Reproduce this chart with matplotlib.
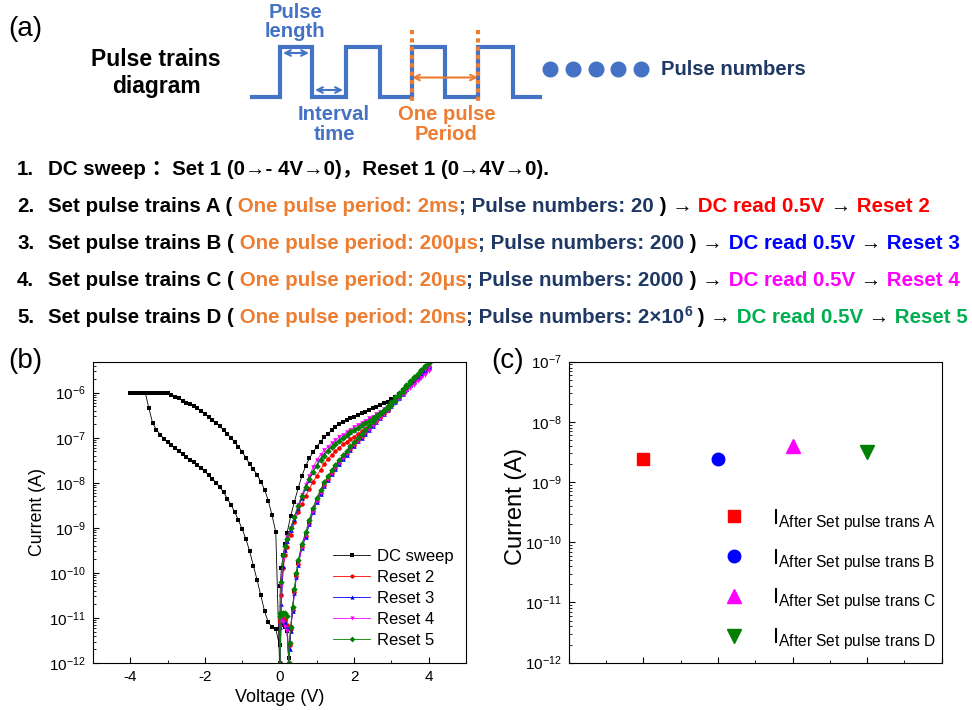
import matplotlib
matplotlib.use('Agg')
import matplotlib.pyplot as plt
import numpy as np
from matplotlib.ticker import MultipleLocator, LogLocator, NullFormatter, FixedLocator

FAM = ['Liberation Sans', 'Noto Sans CJK SC', 'DejaVu Sans']
plt.rcParams['font.family'] = FAM
plt.rcParams['mathtext.fontset'] = 'custom'
plt.rcParams['mathtext.rm'] = 'Liberation Sans'
plt.rcParams['mathtext.it'] = 'Liberation Sans:italic'
plt.rcParams['mathtext.bf'] = 'Liberation Sans:bold'
plt.rcParams['axes.unicode_minus'] = False

# ---------------- panel (b): I-V sweeps, log10|I| ----------------
v_neg = [0.0, -0.1, -0.2, -0.3, -0.4, -0.5, -0.6, -0.7, -0.8, -0.9, -1.0, -1.1, -1.2, -1.3,
         -1.4, -1.5, -1.6, -1.7, -1.8, -1.9, -2.0, -2.1, -2.2, -2.3, -2.4, -2.5, -2.6, -2.7,
         -2.8, -2.9, -3.0, -3.1, -3.2, -3.3, -3.4, -3.5, -3.6, -3.7, -3.8, -3.9, -4.0]
v_up = [0.0, 0.02, 0.05, 0.1, 0.15, 0.2, 0.3, 0.4, 0.5, 0.6, 0.7, 0.8, 0.9, 1.0, 1.1, 1.2,
        1.3, 1.4, 1.5, 1.6, 1.7, 1.8, 1.9, 2.0, 2.1, 2.2, 2.3, 2.4, 2.5, 2.6, 2.7, 2.8, 2.9,
        3.0, 3.1, 3.2, 3.3, 3.4, 3.5, 3.6, 3.7, 3.8, 3.9, 4.0]
v_down = [4.0, 3.9, 3.8, 3.7, 3.6, 3.5, 3.4, 3.3, 3.2, 3.1, 3.0, 2.9, 2.8, 2.7, 2.6, 2.5,
          2.4, 2.3, 2.2, 2.1, 2.0, 1.9, 1.8, 1.7, 1.6, 1.5, 1.4, 1.3, 1.2, 1.1, 1.0, 0.9,
          0.8, 0.7, 0.6, 0.5, 0.45, 0.4, 0.35, 0.3, 0.27, 0.25, 0.2, 0.15, 0.1, 0.05, 0.0]

# DC sweep: set 0 -> -4V -> 0, reset 0 -> 4V -> 0
dc_set_fwd = [-11.6, -11.25, -11.2, -11.1, -10.85, -10.5, -10.16, -9.84, -9.52, -9.25, -9.03,
              -8.83, -8.65, -8.49, -8.35, -8.21, -8.1, -8.0, -7.91, -7.83, -7.75, -7.68, -7.61,
              -7.55, -7.49, -7.42, -7.36, -7.3, -7.23, -7.16, -7.1, -7.02, -6.93, -6.82, -6.68,
              -6.35, -6.0, -6.0, -6.0, -6.0, -6.0]
dc_set_back = [-6.0, -6.0, -6.0, -6.0, -6.0, -6.0, -6.0, -6.0, -6.0, -6.0, -6.0, -6.05, -6.09,
               -6.13, -6.18, -6.22, -6.26, -6.3, -6.35, -6.41, -6.47, -6.53, -6.6, -6.67, -6.75,
               -6.83, -6.92, -7.0, -7.1, -7.2, -7.31, -7.45, -7.58, -7.7, -7.82, -7.98, -8.15,
               -8.4, -8.72, -9.1, -12.0]
dc_reset_up = [-12.0, -10.3, -9.9, -9.6, -9.35, -9.12, -8.74, -8.42, -8.12, -7.85, -7.63, -7.46,
               -7.32, -7.2, -7.09, -6.99, -6.91, -6.84, -6.76, -6.7, -6.65, -6.61, -6.57, -6.53,
               -6.49, -6.45, -6.42, -6.39, -6.35, -6.31, -6.27, -6.24, -6.2, -6.15, -6.1, -6.02,
               -5.95, -5.87, -5.79, -5.71, -5.62, -5.53, -5.44, -5.35]
dc_reset_down = [-5.4, -5.48, -5.56, -5.64, -5.72, -5.8, -5.89, -5.98, -6.07, -6.16, -6.25, -6.34,
                 -6.43, -6.52, -6.61, -6.7, -6.79, -6.87, -6.96, -7.05, -7.14, -7.24, -7.34,
                 -7.44, -7.54, -7.65, -7.77, -7.9, -8.04, -8.2, -8.38, -8.6, -8.87, -9.15, -9.4,
                 -9.77, -10.05, -10.4, -10.8, -11.25, -11.6, -11.9, -11.3, -11.2, -11.15, -11.1,
                 -11.2]

# Reset 2..5 (0 -> 4V -> 0)
r2_up = [-11.1, -12.0, -10.5, -9.9, -9.6, -9.42, -9.15, -8.88, -8.65, -8.47, -8.3, -8.13, -7.98,
         -7.84, -7.71, -7.58, -7.47, -7.38, -7.3, -7.22, -7.15, -7.09, -7.03, -6.98, -6.92,
         -6.86, -6.8, -6.73, -6.67, -6.6, -6.53, -6.46, -6.38, -6.28, -6.18, -6.08, -5.99, -5.9,
         -5.81, -5.73, -5.65, -5.57, -5.49, -5.42]
r2_down = [-5.43, -5.5, -5.58, -5.66, -5.74, -5.82, -5.91, -6.0, -6.09, -6.18, -6.27, -6.36,
           -6.45, -6.54, -6.63, -6.72, -6.81, -6.89, -6.98, -7.06, -7.16, -7.26, -7.36, -7.46,
           -7.56, -7.67, -7.79, -7.92, -8.06, -8.22, -8.4, -8.62, -8.9, -9.18, -9.43, -9.8,
           -10.08, -10.42, -10.82, -11.25, -11.6, -12.0, -11.15, -11.05, -11.0, -10.95, -11.05]
r3_up = [-11.2, -12.0, -10.7, -9.85, -9.5, -9.3, -9.05, -8.8, -8.56, -8.33, -8.12, -7.93, -7.77,
         -7.6, -7.46, -7.36, -7.27, -7.19, -7.12, -7.05, -6.99, -6.93, -6.88, -6.82, -6.77,
         -6.71, -6.66, -6.61, -6.56, -6.5, -6.45, -6.39, -6.33, -6.26, -6.18, -6.09, -6.0,
         -5.91, -5.82, -5.74, -5.66, -5.58, -5.51, -5.44]
r3_down = [-5.45, -5.52, -5.6, -5.68, -5.76, -5.84, -5.93, -6.02, -6.11, -6.2, -6.29, -6.38,
           -6.47, -6.56, -6.65, -6.74, -6.83, -6.91, -7.0, -7.08, -7.18, -7.28, -7.38, -7.48,
           -7.58, -7.69, -7.81, -7.94, -8.08, -8.24, -8.42, -8.65, -8.92, -9.2, -9.45, -9.82,
           -10.1, -10.45, -10.85, -11.3, -11.7, -12.0, -11.2, -11.1, -11.05, -11.0, -11.1]
r4_up = [-11.0, -12.0, -10.3, -9.7, -9.42, -9.2, -9.0, -8.75, -8.5, -8.27, -8.05, -7.84, -7.66,
         -7.5, -7.38, -7.28, -7.2, -7.12, -7.05, -6.99, -6.93, -6.88, -6.82, -6.77, -6.72,
         -6.67, -6.62, -6.57, -6.53, -6.48, -6.42, -6.36, -6.31, -6.24, -6.15, -6.05, -5.96,
         -5.88, -5.8, -5.72, -5.64, -5.57, -5.5, -5.42]
r4_down = [-5.52, -5.6, -5.67, -5.74, -5.82, -5.9, -5.98, -6.06, -6.14, -6.22, -6.31, -6.4,
           -6.48, -6.57, -6.65, -6.74, -6.82, -6.9, -6.99, -7.07, -7.16, -7.26, -7.36, -7.46,
           -7.56, -7.67, -7.79, -7.92, -8.06, -8.22, -8.4, -8.62, -8.88, -9.15, -9.42, -9.78,
           -10.05, -10.4, -10.8, -11.2, -11.55, -12.0, -11.3, -11.2, -11.1, -11.05, -11.2]
r5_up = [-10.9, -12.0, -10.2, -9.6, -9.4, -9.25, -9.0, -8.75, -8.52, -8.3, -8.1, -7.92, -7.76,
         -7.62, -7.5, -7.4, -7.3, -7.21, -7.14, -7.07, -7.0, -6.94, -6.88, -6.83, -6.78, -6.72,
         -6.67, -6.62, -6.57, -6.52, -6.46, -6.4, -6.34, -6.27, -6.18, -6.08, -5.98, -5.88,
         -5.78, -5.68, -5.58, -5.49, -5.4, -5.32]
r5_down = [-5.34, -5.42, -5.5, -5.58, -5.66, -5.74, -5.83, -5.92, -6.01, -6.1, -6.2, -6.29,
           -6.38, -6.47, -6.56, -6.65, -6.74, -6.82, -6.91, -7.0, -7.09, -7.19, -7.29, -7.39,
           -7.49, -7.6, -7.72, -7.85, -7.99, -8.15, -8.33, -8.55, -8.82, -9.1, -9.36, -9.72,
           -10.0, -10.35, -10.75, -11.2, -11.55, -12.0, -10.95, -10.9, -10.88, -10.9, -10.95]

# ---------------- panel (c) ----------------
c_pos = [1, 2, 3, 4]
c_current = [2.45e-9, 2.4e-9, 4.0e-9, 3.2e-9]
c_names = ['A', 'B', 'C', 'D']
c_colors = ['#ff0000', '#0000ff', '#ff00ff', '#007f00']
c_markers = ['s', 'o', '^', 'v']

# ---------------- panel (a) diagram ----------------
pulse_x = [252, 280, 312, 346, 380, 412, 445, 478, 513, 540]
pulse_y = [97, 47, 97, 47, 97, 47, 97, 47, 97, 97]
dots_x = [550, 573, 596, 618, 641]

BLUE = '#4472c4'
ORANGE = '#ed7d31'
NAVY = '#1f3864'
K = 'black'
FS = 14.6

fig = plt.figure(figsize=(9.72, 7.10), dpi=100)
ax0 = fig.add_axes([0, 0, 1, 1])
ax0.set_xlim(0, 972)
ax0.set_ylim(710, 0)
ax0.axis('off')
rend = fig.canvas.get_renderer()

ax0.text(8, 36.5, '(a)', fontsize=20)
ax0.text(8, 368, '(b)', fontsize=20)
ax0.text(491, 368, '(c)', fontsize=20)

ax0.text(156, 66.5, 'Pulse trains', fontsize=16.5, fontweight='bold', ha='center', va='baseline')
ax0.text(156, 93, 'diagram', fontsize=16.5, fontweight='bold', ha='center', va='baseline')

ax0.plot(pulse_x, pulse_y, drawstyle='steps-post', color=BLUE, lw=3, solid_joinstyle='miter')
for xv in [pulse_x[5], pulse_x[7]]:
    ax0.plot([xv, xv], [30, 104], color=ORANGE, lw=3, ls=(0, (1, 1)))
ax0.annotate('', xy=(pulse_x[1] + 3, 53), xytext=(pulse_x[2] - 3, 53),
             arrowprops=dict(arrowstyle='<->', color=BLUE, lw=1.5, shrinkA=0, shrinkB=0))
ax0.annotate('', xy=(pulse_x[2] + 3, 90), xytext=(pulse_x[3] - 3, 90),
             arrowprops=dict(arrowstyle='<->', color=BLUE, lw=1.5, shrinkA=0, shrinkB=0))
ax0.annotate('', xy=(pulse_x[5], 77.5), xytext=(pulse_x[7], 77.5),
             arrowprops=dict(arrowstyle='<->', color=ORANGE, lw=1.5, shrinkA=0, shrinkB=0))
ax0.plot(dots_x, [69] * len(dots_x), 'o', color=BLUE, ms=10.5)

ax0.text(295, 18.5, 'Pulse', color=BLUE, fontsize=FS, fontweight='bold', ha='center', va='baseline')
ax0.text(295, 37, 'length', color=BLUE, fontsize=FS, fontweight='bold', ha='center', va='baseline')
ax0.text(334, 120.5, 'Interval', color=BLUE, fontsize=FS, fontweight='bold', ha='center', va='baseline')
ax0.text(334, 139.5, 'time', color=BLUE, fontsize=FS, fontweight='bold', ha='center', va='baseline')
ax0.text(447, 120.5, 'One pulse', color=ORANGE, fontsize=FS, fontweight='bold', ha='center', va='baseline')
ax0.text(446, 140, 'Period', color=ORANGE, fontsize=FS, fontweight='bold', ha='center', va='baseline')
ax0.text(661, 75, 'Pulse numbers', color=NAVY, fontsize=FS, fontweight='bold', va='baseline')


def draw_segments(x, y, segs, size=14.75):
    for seg in segs:
        s, c = seg[0], seg[1]
        fs = seg[2] if len(seg) > 2 else size
        dy = seg[3] if len(seg) > 3 else 0
        t = ax0.text(x, y - dy, s, color=c, fontsize=fs, fontweight='bold', va='baseline', ha='left')
        x = t.get_window_extent(renderer=rend).x1


steps = [
    [('DC sweep ：Set 1 (0→- 4V→0)，Reset 1 (0→4V→0).', K)],
    [('Set pulse trains A (', K), (' One pulse period: 2ms', ORANGE), ('; Pulse numbers: 20', NAVY),
     (' ) →', K), (' DC read 0.5V', '#ff0000'), (' →', K), (' Reset 2', '#ff0000')],
    [('Set pulse trains B (', K), (' One pulse period: 200μs', ORANGE), ('; Pulse numbers: 200', NAVY),
     (' ) →', K), (' DC read 0.5V', '#0000ff'), (' →', K), (' Reset 3', '#0000ff')],
    [('Set pulse trains C (', K), (' One pulse period: 20μs', ORANGE), ('; Pulse numbers: 2000', NAVY),
     (' ) →', K), (' DC read 0.5V', '#ff00ff'), (' →', K), (' Reset 4', '#ff00ff')],
    [('Set pulse trains D (', K), (' One pulse period: 20ns', ORANGE), ('; Pulse numbers: 2×10', NAVY),
     ('6', NAVY, 10, 6.5), (' ) →', K), (' DC read 0.5V', '#00b050'), (' →', K), (' Reset 5', '#00b050')],
]
for i, segs in enumerate(steps):
    yb = 175 + 37 * i
    ax0.text(17, yb, '%d.' % (i + 1), fontsize=14.75, fontweight='bold', va='baseline')
    draw_segments(48, yb, segs)

# ---------------- panel (b) ----------------
axb = fig.add_axes([93 / 972, 47 / 710, 373 / 972, 301 / 710])
series = [
    ('DC sweep', 'black', 's', v_neg + v_neg[::-1] + v_up + v_down,
     dc_set_fwd + dc_set_back + dc_reset_up + dc_reset_down),
    ('Reset 2', '#ff0000', 'o', v_up + v_down, r2_up + r2_down),
    ('Reset 3', '#0000ff', '^', v_up + v_down, r3_up + r3_down),
    ('Reset 4', '#ff00ff', 'v', v_up + v_down, r4_up + r4_down),
    ('Reset 5', '#008000', 'D', v_up + v_down, r5_up + r5_down),
]
for name, col, mk, vv, li in series:
    axb.plot(vv, 10 ** np.array(li), color=col, marker=mk, ms=3.3, lw=0.6, mew=0, label=name)
axb.set_yscale('log')
axb.set_xlim(-5, 5)
axb.set_ylim(1e-12, 10 ** -5.32)
axb.xaxis.set_major_locator(MultipleLocator(2))
axb.xaxis.set_minor_locator(MultipleLocator(1))
axb.yaxis.set_major_locator(FixedLocator([1e-12, 1e-11, 1e-10, 1e-9, 1e-8, 1e-7, 1e-6]))
axb.yaxis.set_minor_locator(LogLocator(base=10, subs=np.arange(2, 10), numticks=20))
axb.yaxis.set_minor_formatter(NullFormatter())
axb.tick_params(which='both', direction='in', labelsize=11, pad=5)
axb.tick_params(which='major', length=4)
axb.tick_params(which='minor', length=2.5)
axb.set_xlabel('Voltage (V)', fontsize=13, labelpad=4)
axb.set_ylabel('Current (A)', fontsize=12.8)
axb.yaxis.set_label_coords(-0.125, 0.5)
axb.legend(loc='upper left', bbox_to_anchor=(0.643, 0.38), frameon=False, fontsize=12,
           handlelength=2.25, handletextpad=0.4, labelspacing=0.36, borderpad=0,
           borderaxespad=0, markerscale=0.9)

# ---------------- panel (c) ----------------
axc = fig.add_axes([568.7 / 972, 47.3 / 710, 373 / 972, 301 / 710])
for p, cur, nm, col, mk in zip(c_pos, c_current, c_names, c_colors, c_markers):
    axc.plot([p], [cur], ls='none', marker=mk, color=col, ms=9 if mk in 'so' else 10.5,
             label=r'$\mathrm{I}_{\mathrm{After\ Set\ pulse\ trans\ %s}}$' % nm)
axc.set_yscale('log')
axc.set_xlim(0, 5)
axc.set_ylim(1e-12, 1e-7)
axc.xaxis.set_major_locator(MultipleLocator(1))
axc.xaxis.set_minor_locator(MultipleLocator(0.5))
axc.yaxis.set_major_locator(FixedLocator([1e-12, 1e-11, 1e-10, 1e-9, 1e-8, 1e-7]))
axc.yaxis.set_minor_locator(LogLocator(base=10, subs=np.arange(2, 10), numticks=20))
axc.yaxis.set_minor_formatter(NullFormatter())
axc.tick_params(which='both', direction='in', labelsize=11, pad=5, labelbottom=False)
axc.tick_params(which='major', length=4.5)
axc.tick_params(which='minor', length=2.5)
axc.set_ylabel('Current (A)', fontsize=17)
axc.yaxis.set_label_coords(-0.112, 0.52)
axc.legend(loc='upper left', bbox_to_anchor=(0.415, 0.515), frameon=False, fontsize=16,
           handlelength=0.95, handletextpad=1.25, labelspacing=0.66, borderpad=0, borderaxespad=0)

fig.savefig('out.png', dpi=100)
